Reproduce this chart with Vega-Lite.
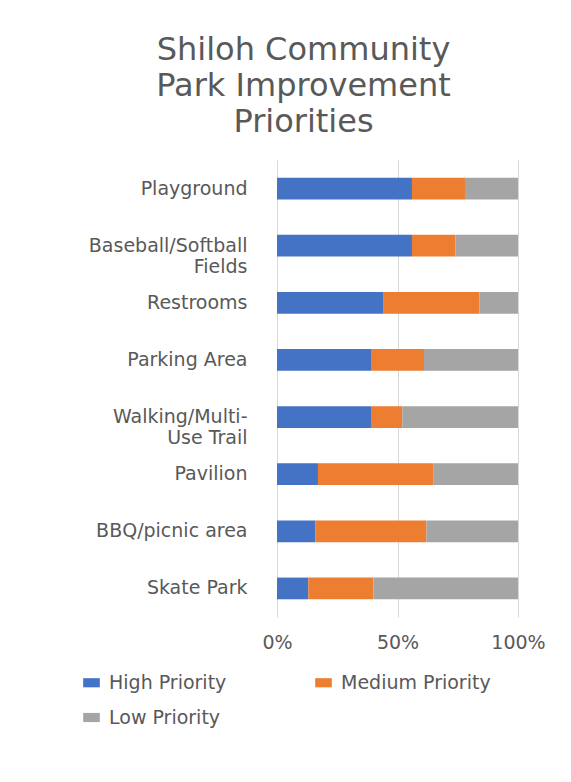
{
  "$schema": "https://vega.github.io/schema/vega-lite/v6.json",
  "width": 241,
  "height": 457,
  "autosize": {"type": "none"},
  "padding": {"left": 277, "top": 160, "right": 53, "bottom": 165},
  "background": "white",
  "title": {
    "text": ["Shiloh Community", "Park Improvement", "Priorities"],
    "font": "DejaVu Sans",
    "fontSize": 32,
    "fontWeight": "normal",
    "color": "#595959",
    "lineHeight": 36,
    "anchor": "middle",
    "dx": -94,
    "offset": -11,
    "baseline": "bottom"
  },
  "data": {
    "values": [
      {"facility": "Playground", "priority": "High Priority", "level": 1, "percent": 56},
      {"facility": "Playground", "priority": "Medium Priority", "level": 2, "percent": 22},
      {"facility": "Playground", "priority": "Low Priority", "level": 3, "percent": 22},
      {"facility": "Baseball/Softball|Fields", "priority": "High Priority", "level": 1, "percent": 56},
      {"facility": "Baseball/Softball|Fields", "priority": "Medium Priority", "level": 2, "percent": 18},
      {"facility": "Baseball/Softball|Fields", "priority": "Low Priority", "level": 3, "percent": 26},
      {"facility": "Restrooms", "priority": "High Priority", "level": 1, "percent": 44},
      {"facility": "Restrooms", "priority": "Medium Priority", "level": 2, "percent": 40},
      {"facility": "Restrooms", "priority": "Low Priority", "level": 3, "percent": 16},
      {"facility": "Parking Area", "priority": "High Priority", "level": 1, "percent": 39},
      {"facility": "Parking Area", "priority": "Medium Priority", "level": 2, "percent": 22},
      {"facility": "Parking Area", "priority": "Low Priority", "level": 3, "percent": 39},
      {"facility": "Walking/Multi-|Use Trail", "priority": "High Priority", "level": 1, "percent": 39},
      {"facility": "Walking/Multi-|Use Trail", "priority": "Medium Priority", "level": 2, "percent": 13},
      {"facility": "Walking/Multi-|Use Trail", "priority": "Low Priority", "level": 3, "percent": 48},
      {"facility": "Pavilion", "priority": "High Priority", "level": 1, "percent": 17},
      {"facility": "Pavilion", "priority": "Medium Priority", "level": 2, "percent": 48},
      {"facility": "Pavilion", "priority": "Low Priority", "level": 3, "percent": 35},
      {"facility": "BBQ/picnic area", "priority": "High Priority", "level": 1, "percent": 16},
      {"facility": "BBQ/picnic area", "priority": "Medium Priority", "level": 2, "percent": 46},
      {"facility": "BBQ/picnic area", "priority": "Low Priority", "level": 3, "percent": 38},
      {"facility": "Skate Park", "priority": "High Priority", "level": 1, "percent": 13},
      {"facility": "Skate Park", "priority": "Medium Priority", "level": 2, "percent": 27},
      {"facility": "Skate Park", "priority": "Low Priority", "level": 3, "percent": 60}
    ]
  },
  "mark": {"type": "bar"},
  "encoding": {
    "y": {
      "field": "facility",
      "type": "nominal",
      "sort": null,
      "title": null,
      "scale": {"paddingInner": 0.62, "paddingOuter": 0.31},
      "axis": {
        "labelExpr": "split(datum.label, '|')",
        "domain": false,
        "ticks": false,
        "grid": false,
        "labelPadding": 30,
        "labelFont": "DejaVu Sans",
        "labelFontSize": 19,
        "labelColor": "#595959",
        "labelLineHeight": 21,
        "labelLimit": 0
      }
    },
    "x": {
      "field": "percent",
      "type": "quantitative",
      "stack": "zero",
      "scale": {"domain": [0, 100]},
      "title": null,
      "axis": {
        "values": [0, 50, 100],
        "labelExpr": "datum.value + '%'",
        "grid": true,
        "gridColor": "#d9d9d9",
        "domain": false,
        "ticks": false,
        "labelPadding": 16,
        "labelFont": "DejaVu Sans",
        "labelFontSize": 19,
        "labelColor": "#595959",
        "labelFlush": false
      }
    },
    "color": {
      "field": "priority",
      "type": "nominal",
      "scale": {
        "domain": ["High Priority", "Medium Priority", "Low Priority"],
        "range": ["#4472C4", "#ED7D31", "#A5A5A5"]
      },
      "legend": {
        "orient": "none",
        "legendX": -195,
        "legendY": 513,
        "direction": "horizontal",
        "columns": 2,
        "title": null,
        "padding": 0,
        "symbolType": "M-1,-0.55L1,-0.55L1,0.55L-1,0.55Z",
        "symbolSize": 276,
        "symbolStrokeWidth": 0,
        "labelFont": "DejaVu Sans",
        "labelFontSize": 19,
        "labelColor": "#595959",
        "labelOffset": 8,
        "columnPadding": 87,
        "rowPadding": 15,
        "labelLimit": 0
      }
    },
    "order": {"field": "level", "type": "quantitative"}
  },
  "config": {"view": {"stroke": null}}
}
